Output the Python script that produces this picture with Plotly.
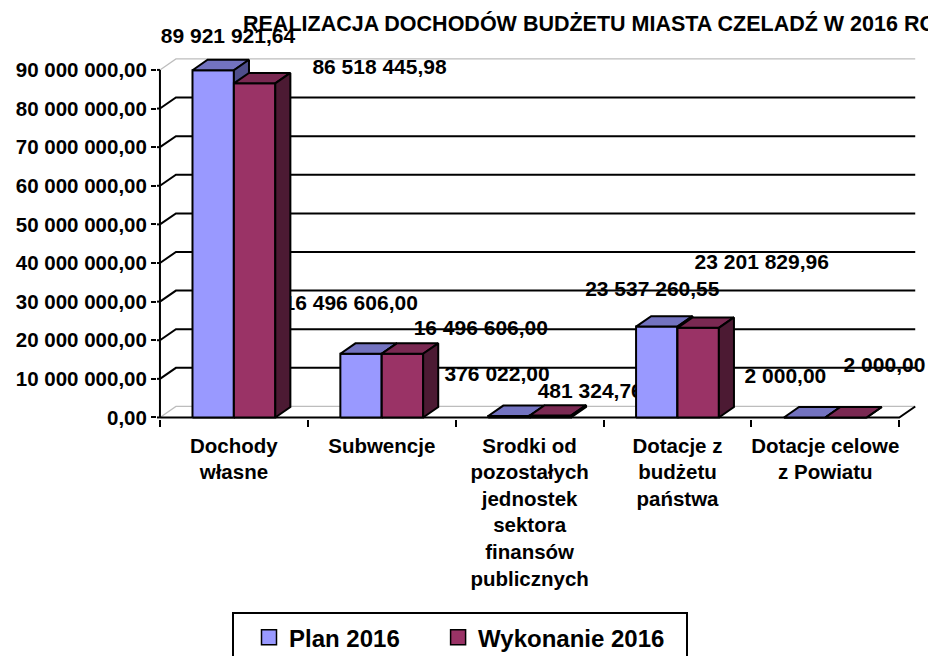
import plotly.graph_objects as go

# ---------------- data ----------------
categories = [
    "Dochody<br>własne",
    "Subwencje",
    "Srodki od<br>pozostałych<br>jednostek<br>sektora<br>finansów<br>publicznych",
    "Dotacje z<br>budżetu<br>państwa",
    "Dotacje celowe<br>z Powiatu",
]
series_names = ["Plan 2016", "Wykonanie 2016"]
plan_2016 = [89921921.64, 16496606.00, 376022.00, 23537260.55, 2000.00]
wykonanie_2016 = [86518445.98, 16496606.00, 481324.76, 23201829.96, 2000.00]
y_tick_values = [0, 10e6, 20e6, 30e6, 40e6, 50e6, 60e6, 70e6, 80e6, 90e6]
title_text = "REALIZACJA DOCHODÓW BUDŻETU MIASTA CZELADŹ W 2016 ROKU"

# ---------------- style ----------------
FONT = "Liberation Sans"
front_colors = ["#9999FF", "#9A3366"]
top_colors = ["#7373C0", "#7A2952"]
side_colors = ["#4F4F8C", "#4C1A33"]
BAR_W = 0.28
BAR_OFFSETS = [-0.28, 0.0]
BAR_DX, BAR_DY = 0.102, 2.7e6
WALL_DX, WALL_DY = 0.108, 2.85e6
X0, X1 = -0.5, len(categories) - 0.5
legend_pad = ["\u00a0" * 5, ""]
# label placement (category units, value units) relative to top centre of each bar
label_shift = [
    [(0.10, 8.3e6), (-0.07, 12.7e6), (-0.08, 10.3e6), (-0.03, 9.3e6), (-0.13, 10.3e6)],
    [(0.845, 3.9e6), (0.53, 6.2e6), (0.27, 5.9e6), (0.43, 16.6e6), (0.26, 13.2e6)],
]


def fmt(v):
    return f"{v:,.2f}".replace(",", " ").replace(".", ",")


fig = go.Figure()


def add_lines(xs, ys, color, width):
    fig.add_trace(go.Scatter(x=xs, y=ys, mode="lines", line=dict(color=color, width=width),
                             hoverinfo="skip", showlegend=False))


# back wall / floor grey edges
gx, gy = [], []
for v in (y_tick_values[0], y_tick_values[-1]):
    gx += [X0, X0 + WALL_DX, X1 + WALL_DX, None]
    gy += [v, v + WALL_DY, v + WALL_DY, None]
add_lines(gx, gy, "#BDBDBD", 1.2)

# gridlines on back wall with diagonal connectors
bx, by = [], []
for v in y_tick_values[1:-1]:
    bx += [X0, X0 + WALL_DX, X1 + WALL_DX, None]
    by += [v, v + WALL_DY, v + WALL_DY, None]
add_lines(bx, by, "black", 2)

# front value axis line + stubs to outer ticks
ax, ay = [X0, X0, None], [y_tick_values[0], y_tick_values[-1], None]
for v in y_tick_values:
    ax += [X0 - 0.03, X0, None]
    ay += [v, v, None]
add_lines(ax, ay, "black", 2)

# front floor edge
add_lines([X0, X1, X1 + WALL_DX], [0, 0, WALL_DY], "black", 2)

# data labels (drawn below bars, like the original)
all_series = [plan_2016, wykonanie_2016]
for s, vals in enumerate(all_series):
    lx, ly, lt = [], [], []
    for i, v in enumerate(vals):
        cx = i + BAR_OFFSETS[s] + BAR_W / 2
        lx.append(cx + label_shift[s][i][0])
        ly.append(v + label_shift[s][i][1])
        lt.append(fmt(v))
    fig.add_trace(go.Scatter(x=lx, y=ly, text=lt, mode="text", textposition="middle center",
                             textfont=dict(family=FONT, size=21, color="black", weight="bold"),
                             cliponaxis=False, hoverinfo="skip", showlegend=False))

# 3-D bars built from the values
for s, vals in enumerate(all_series):
    fx, fy, tx, ty, sx, sy = [], [], [], [], [], []
    for i, v in enumerate(vals):
        a = i + BAR_OFFSETS[s]
        b = a + BAR_W
        fx += [a, b, b, a, a, None]
        fy += [0, 0, v, v, 0, None]
        tx += [a, b, b + BAR_DX, a + BAR_DX, a, None]
        ty += [v, v, v + BAR_DY, v + BAR_DY, v, None]
        sx += [b, b + BAR_DX, b + BAR_DX, b, b, None]
        sy += [0, BAR_DY, v + BAR_DY, v, 0, None]
    for xs, ys, col in ((fx, fy, front_colors[s]), (tx, ty, top_colors[s]), (sx, sy, side_colors[s])):
        fig.add_trace(go.Scatter(x=xs, y=ys, mode="lines", fill="toself", fillcolor=col,
                                 line=dict(color="black", width=2), hoverinfo="skip",
                                 showlegend=False))

# legend entries
for s, name in enumerate(series_names):
    fig.add_trace(go.Scatter(x=[None], y=[None], mode="markers", name=name + legend_pad[s],
                             marker=dict(symbol="square", size=15, color=front_colors[s],
                                         line=dict(color="black", width=1.5))))

PLOT_T, PLOT_B = 12, 237
fig.update_layout(
    width=928, height=656,
    paper_bgcolor="white", plot_bgcolor="white",
    margin=dict(l=157, r=11, t=PLOT_T, b=PLOT_B, autoexpand=False),
    font=dict(family=FONT, color="black", size=20),
    title=dict(text=title_text, x=243 / 928, xanchor="left", xref="container",
               y=1 - 23 / 656, yanchor="middle", yref="container",
               font=dict(family=FONT, size=21.5, color="black", weight="bold")),
    showlegend=True,
    legend=dict(orientation="h", x=(249 - 157) / 760, xanchor="left", y=-0.482, yanchor="top",
                borderwidth=0, bgcolor="rgba(0,0,0,0)",
                font=dict(family=FONT, size=24, color="black", weight="bold"),
                itemclick=False, itemdoubleclick=False),
    shapes=[dict(type="rect", xref="paper", yref="paper",
                 x0=(233 - 157) / 760, x1=(687 - 157) / 760,
                 y0=(419 - 680) / 407, y1=(419 - 613) / 407,
                 line=dict(color="black", width=2), fillcolor="rgba(0,0,0,0)", layer="below")],
    xaxis=dict(range=[-0.52, 4.62], tickmode="array", tickvals=list(range(len(categories))),
               ticktext=categories, ticks="", showgrid=False, zeroline=False, showline=False,
               ticklabelstandoff=12,
               tickfont=dict(family=FONT, size=20.5, color="black", weight="bold"),
               minor=dict(tickmode="array", tickvals=[X0 + k for k in range(len(categories) + 1)],
                          ticks="outside", ticklen=7, tickwidth=2, tickcolor="black", showgrid=False),
               fixedrange=True),
    yaxis=dict(range=[-0.4e6, 105e6], tickmode="array", tickvals=y_tick_values,
               ticktext=[fmt(v) for v in y_tick_values], ticks="outside", ticklen=5,
               tickwidth=2, tickcolor="black", showgrid=False, zeroline=False, showline=False,
               tickfont=dict(family=FONT, size=20.5, color="black", weight="bold"),
               fixedrange=True),
)

fig.write_html("out.html", config={"displayModeBar": False, "staticPlot": True},
               post_script="document.body.style.margin='0px';")
